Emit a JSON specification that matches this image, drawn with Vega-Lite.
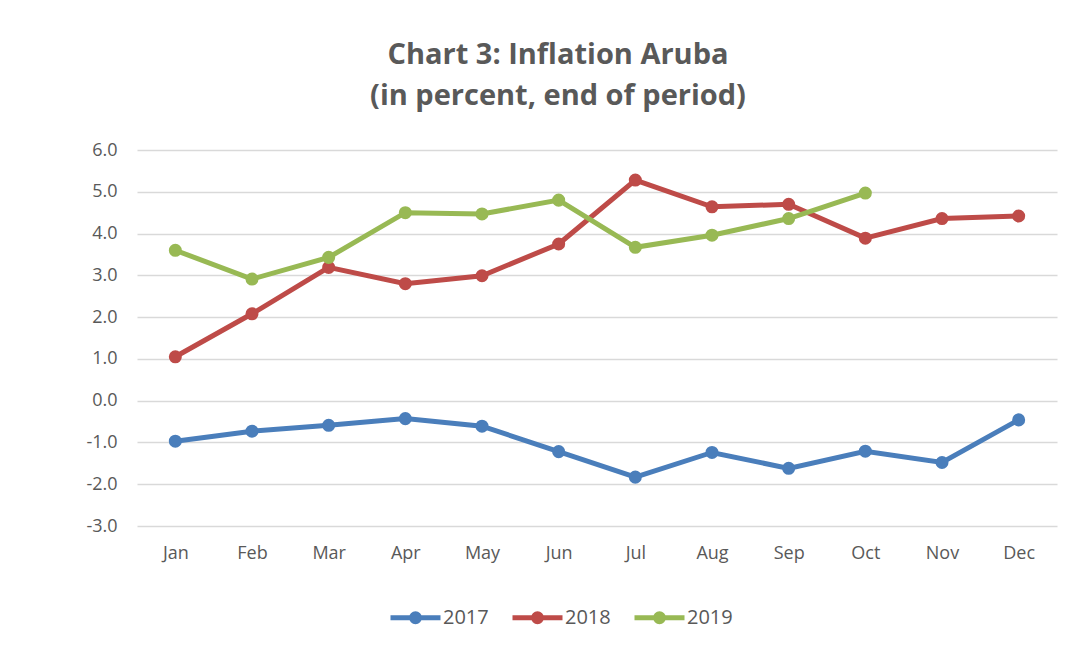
{
  "$schema": "https://vega.github.io/schema/vega-lite/v6.json",
  "width": 920,
  "height": 376,
  "autosize": "none",
  "padding": {"left": 137, "top": 150, "right": 32, "bottom": 122},
  "background": "white",
  "title": {
    "text": ["Chart 3: Inflation Aruba", "(in percent, end of period)"],
    "anchor": "middle",
    "frame": "group",
    "dx": -39,
    "offset": 30,
    "font": "Open Sans",
    "fontSize": 29,
    "fontWeight": "bold",
    "color": "#595959",
    "lineHeight": 41
  },
  "data": {
    "values": [
      {"month": "Jan", "year": "2017", "value": -0.97},
      {"month": "Feb", "year": "2017", "value": -0.73},
      {"month": "Mar", "year": "2017", "value": -0.59},
      {"month": "Apr", "year": "2017", "value": -0.43},
      {"month": "May", "year": "2017", "value": -0.61},
      {"month": "Jun", "year": "2017", "value": -1.22},
      {"month": "Jul", "year": "2017", "value": -1.83},
      {"month": "Aug", "year": "2017", "value": -1.24},
      {"month": "Sep", "year": "2017", "value": -1.62},
      {"month": "Oct", "year": "2017", "value": -1.21},
      {"month": "Nov", "year": "2017", "value": -1.48},
      {"month": "Dec", "year": "2017", "value": -0.46},
      {"month": "Jan", "year": "2018", "value": 1.05},
      {"month": "Feb", "year": "2018", "value": 2.08},
      {"month": "Mar", "year": "2018", "value": 3.19},
      {"month": "Apr", "year": "2018", "value": 2.8},
      {"month": "May", "year": "2018", "value": 2.99},
      {"month": "Jun", "year": "2018", "value": 3.75},
      {"month": "Jul", "year": "2018", "value": 5.28},
      {"month": "Aug", "year": "2018", "value": 4.64},
      {"month": "Sep", "year": "2018", "value": 4.7},
      {"month": "Oct", "year": "2018", "value": 3.89},
      {"month": "Nov", "year": "2018", "value": 4.36},
      {"month": "Dec", "year": "2018", "value": 4.42},
      {"month": "Jan", "year": "2019", "value": 3.6},
      {"month": "Feb", "year": "2019", "value": 2.91},
      {"month": "Mar", "year": "2019", "value": 3.43},
      {"month": "Apr", "year": "2019", "value": 4.5},
      {"month": "May", "year": "2019", "value": 4.47},
      {"month": "Jun", "year": "2019", "value": 4.8},
      {"month": "Jul", "year": "2019", "value": 3.67},
      {"month": "Aug", "year": "2019", "value": 3.96},
      {"month": "Sep", "year": "2019", "value": 4.36},
      {"month": "Oct", "year": "2019", "value": 4.97}
    ]
  },
  "encoding": {
    "x": {
      "field": "month",
      "type": "ordinal",
      "sort": ["Jan","Feb","Mar","Apr","May","Jun","Jul","Aug","Sep","Oct","Nov","Dec"],
      "scale": {"type": "point", "padding": 0.5},
      "axis": {
        "title": null,
        "domain": false,
        "ticks": false,
        "grid": false,
        "labelAngle": 0,
        "labelPadding": 18,
        "labelFont": "Open Sans",
        "labelFontSize": 18,
        "labelColor": "#595959"
      }
    },
    "y": {
      "field": "value",
      "type": "quantitative",
      "scale": {"domain": [-3, 6], "nice": false, "zero": false},
      "axis": {
        "title": null,
        "values": [-3, -2, -1, 0, 1, 2, 3, 4, 5, 6],
        "labelExpr": "replace(format(datum.value, '.1f'), '\u2212', '-')",
        "domain": false,
        "ticks": false,
        "grid": true,
        "gridColor": "#d9d9d9",
        "gridWidth": 1.3,
        "labelPadding": 20,
        "labelFont": "Open Sans",
        "labelFontSize": 18,
        "labelColor": "#595959"
      }
    },
    "color": {
      "field": "year",
      "type": "nominal",
      "scale": {"domain": ["2017", "2018", "2019"], "range": ["#4a7ebb", "#be4b48", "#98b954"]},
      "legend": {
        "title": null,
        "orient": "none",
        "direction": "horizontal",
        "legendX": 266,
        "legendY": 455,
        "symbolType": "M-2.5,0L2.5,0M-0.4,0A0.4,0.4,0,1,0,0.4,0A0.4,0.4,0,1,0,-0.4,0Z",
        "symbolSize": 400,
        "symbolStrokeWidth": 5,
        "symbolOpacity": 1,
        "labelFont": "Open Sans",
        "labelFontSize": 20,
        "labelColor": "#595959",
        "labelOffset": 15,
        "columnPadding": 13,
        "encode": {
          "symbols": {
            "update": {
              "stroke": {"field": "value", "scale": "color"},
              "fill": {"field": "value", "scale": "color"},
              "strokeWidth": {"value": 5}
            }
          }
        }
      }
    }
  },
  "layer": [
    {
      "mark": {"type": "line", "strokeWidth": 5}
    },
    {
      "mark": {"type": "point", "filled": true, "opacity": 1, "size": 170}
    }
  ],
  "config": {"view": {"stroke": null}}
}
